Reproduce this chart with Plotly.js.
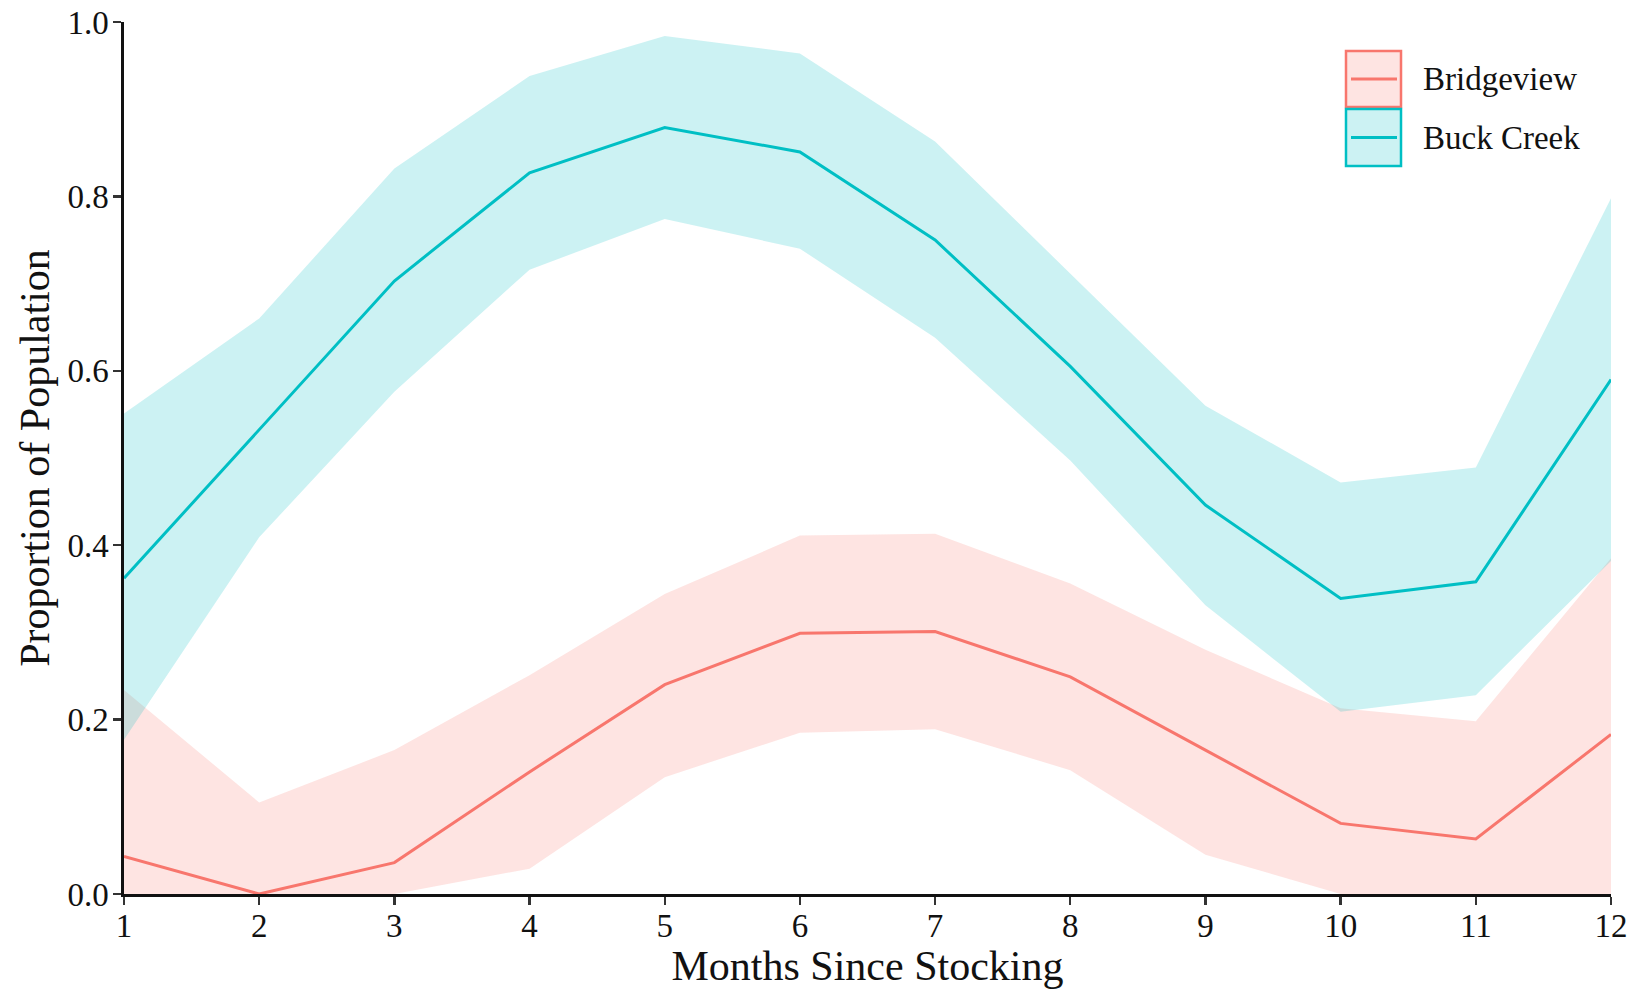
<!DOCTYPE html>
<html>
<head>
<meta charset="utf-8">
<script src="https://cdn.plot.ly/plotly-3.0.1.min.js"></script>
<style>html,body{margin:0;padding:0;background:#fff;}#chart{width:1634px;height:989px;}</style>
</head>
<body>
<div id="chart"></div>
<script>
const months = [1,2,3,4,5,6,7,8,9,10,11,12];
const seriesNames = ["Bridgeview", "Buck Creek"];
const bridgeMean  = [0.043,0.000,0.036,0.140,0.240,0.299,0.301,0.249,0.165,0.081,0.063,0.183];
const bridgeUpper = [0.234,0.105,0.165,0.251,0.344,0.411,0.413,0.356,0.280,0.213,0.198,0.385];
const bridgeLower = [0.000,0.000,0.000,0.029,0.134,0.185,0.189,0.142,0.045,0.000,0.000,0.000];
const buckMean  = [0.362,0.532,0.703,0.827,0.879,0.851,0.750,0.605,0.446,0.339,0.358,0.590];
const buckUpper = [0.551,0.660,0.832,0.938,0.984,0.964,0.863,0.711,0.560,0.472,0.489,0.798];
const buckLower = [0.177,0.409,0.576,0.716,0.774,0.740,0.638,0.497,0.331,0.209,0.228,0.382];
const yTicks = [0,0.2,0.4,0.6,0.8,1.0];

const lineColors = ["#F8766D", "#00BFC4"];
const fillColors = ["rgba(248,118,109,0.2)", "rgba(0,191,196,0.2)"];

function ribbon(upper, lower, i){
  return [
    {x: months, y: lower, mode: 'lines', line: {width: 0, color: 'rgba(0,0,0,0)'}, showlegend: false, hoverinfo: 'skip'},
    {x: months, y: upper, mode: 'lines', fill: 'tonexty', fillcolor: fillColors[i], line: {width: 0, color: 'rgba(0,0,0,0)'}, showlegend: false, hoverinfo: 'skip'}
  ];
}
const traces = [
  ...ribbon(bridgeUpper, bridgeLower, 0),
  ...ribbon(buckUpper, buckLower, 1),
  {x: months, y: bridgeMean, mode: 'lines', name: seriesNames[0], line: {color: lineColors[0], width: 3}, showlegend: false},
  {x: months, y: buckMean, mode: 'lines', name: seriesNames[1], line: {color: lineColors[1], width: 3}, showlegend: false}
];

const W = 1634, H = 989;
const mL = 124, mR = 23, mT = 22, mB = 95;
const pw = W - mL - mR, ph = H - mT - mB;
const px = p => (p - mL) / pw;
const py = p => (H - mB - p) / ph;

const font = "Liberation Serif, Times New Roman, serif";
const shapes = [];
const annotations = [];
const boxes = [[50,108],[108,167]];
for (let i = 0; i < 2; i++) {
  const [t, b] = boxes[i];
  shapes.push({type: 'rect', xref: 'paper', yref: 'paper', x0: px(1346), x1: px(1401), y0: py(b-1), y1: py(t+1),
    fillcolor: fillColors[i], line: {color: lineColors[i], width: 2.5}});
  shapes.push({type: 'line', xref: 'paper', yref: 'paper', x0: px(1351), x1: px(1397), y0: py((t+b)/2), y1: py((t+b)/2),
    line: {color: lineColors[i], width: 3}});
  annotations.push({xref: 'paper', yref: 'paper', x: px(1421), y: py((t+b)/2), xanchor: 'left', yanchor: 'middle',
    text: seriesNames[i], showarrow: false, font: {family: font, size: 33, color: '#111'}});
}

const layout = {
  width: W, height: H,
  margin: {l: mL, r: mR, t: mT, b: mB},
  paper_bgcolor: '#fff', plot_bgcolor: '#fff',
  showlegend: false,
  font: {family: font, color: '#111'},
  xaxis: {
    range: [1, 12], tickvals: months, ticktext: months.map(String),
    showgrid: false, zeroline: false, showline: true, linecolor: '#111', linewidth: 2.6,
    ticks: 'outside', ticklen: 8, tickwidth: 2.4, tickcolor: '#333',
    ticklabelstandoff: -7,
    tickfont: {family: font, size: 33, color: '#111'},
    title: {text: 'Months Since Stocking', font: {family: font, size: 42, color: '#111'}, standoff: 0}
  },
  yaxis: {
    range: [0, 1], tickvals: yTicks, ticktext: yTicks.map(v => v.toFixed(1)),
    showgrid: false, zeroline: false, showline: true, linecolor: '#111', linewidth: 2.6,
    ticks: 'outside', ticklen: 8, tickwidth: 2.4, tickcolor: '#333',
    ticklabelstandoff: -2,
    tickfont: {family: font, size: 33, color: '#111'},
    title: {text: 'Proportion of Population', font: {family: font, size: 42, color: '#111'}, standoff: 5}
  },
  shapes: shapes,
  annotations: annotations
};

Plotly.newPlot('chart', traces, layout, {displayModeBar: false, staticPlot: true});
</script>
</body>
</html>
